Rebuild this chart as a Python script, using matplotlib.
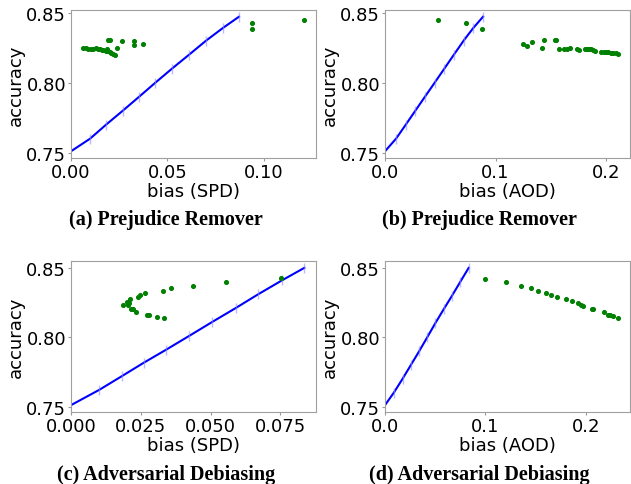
import numpy as np
import matplotlib
matplotlib.use('Agg')
import matplotlib.pyplot as plt

# 蓝线：参考线 (bias, accuracy)
line_a_x = [0.0, 0.0099, 0.0182, 0.0269, 0.0354, 0.0438, 0.0524, 0.0613, 0.0701, 0.0788, 0.0871]
line_a_y = [0.751, 0.760, 0.770, 0.780, 0.790, 0.800, 0.810, 0.820, 0.830, 0.839, 0.847]
line_b_x = [0.0, 0.0100, 0.0188, 0.0275, 0.0362, 0.0450, 0.0537, 0.0624, 0.0712, 0.0799, 0.0887]
line_b_y = [0.751, 0.760, 0.770, 0.780, 0.790, 0.800, 0.810, 0.820, 0.830, 0.839, 0.847]
line_c_x = [0.0, 0.0101, 0.0183, 0.0260, 0.0341, 0.0424, 0.0506, 0.0590, 0.0671, 0.0756, 0.0836]
line_c_y = [0.751, 0.762, 0.772, 0.7815, 0.791, 0.801, 0.811, 0.821, 0.831, 0.841, 0.850]
line_d_x = [0.0, 0.0088, 0.0175, 0.0258, 0.0341, 0.0421, 0.0500, 0.0583, 0.0668, 0.0750, 0.0833]
line_d_y = [0.751, 0.760, 0.770, 0.780, 0.790, 0.800, 0.810, 0.820, 0.830, 0.840, 0.850]

# 绿点：各方法结果
pts_a_x = [0.0064, 0.0078, 0.0090, 0.0103, 0.0116, 0.0130, 0.0142, 0.0150, 0.0160, 0.0168,
           0.0182, 0.0189, 0.0200, 0.0208, 0.0217, 0.0226, 0.0194, 0.0203, 0.0189, 0.0194,
           0.0238, 0.0264, 0.0325, 0.0325, 0.0372, 0.0941, 0.0941, 0.1210]
pts_a_y = [0.8247, 0.8247, 0.8240, 0.8240, 0.8240, 0.8245, 0.8240, 0.8240, 0.8233, 0.8235,
           0.8228, 0.8222, 0.8216, 0.8210, 0.8204, 0.8199, 0.8301, 0.8301, 0.8240, 0.8228,
           0.8247, 0.8296, 0.8296, 0.8265, 0.8277, 0.8422, 0.8381, 0.8444]
pts_b_x = [0.0484, 0.0736, 0.0877, 0.1246, 0.1285, 0.1330, 0.1421, 0.1441, 0.1541, 0.1550,
           0.1571, 0.1615, 0.1646, 0.1670, 0.1736, 0.1751, 0.1805, 0.1826, 0.1847, 0.1862,
           0.1886, 0.1901, 0.1955, 0.1977, 0.2000, 0.2021, 0.2042, 0.2066, 0.2090, 0.2111]
pts_b_y = [0.8444, 0.8422, 0.8381, 0.8277, 0.8260, 0.8293, 0.8247, 0.8301, 0.8301, 0.8301,
           0.8240, 0.8240, 0.8240, 0.8247, 0.8240, 0.8235, 0.8240, 0.8243, 0.8243, 0.8240,
           0.8235, 0.8228, 0.8221, 0.8221, 0.8218, 0.8216, 0.8213, 0.8211, 0.8209, 0.8204]
pts_c_x = [0.0185, 0.0201, 0.0204, 0.0212, 0.0207, 0.0216, 0.0222, 0.0233, 0.0239, 0.0246,
           0.0266, 0.0272, 0.0278, 0.0308, 0.0330, 0.0332, 0.0359, 0.0437, 0.0555, 0.0753]
pts_c_y = [0.8233, 0.8257, 0.8233, 0.8274, 0.8245, 0.8204, 0.8204, 0.8180, 0.8289, 0.8303,
           0.8318, 0.8163, 0.8163, 0.8148, 0.8335, 0.8136, 0.8354, 0.8369, 0.8398, 0.8427]
pts_d_x = [0.0997, 0.1203, 0.1353, 0.1450, 0.1527, 0.1607, 0.1657, 0.1717, 0.1803, 0.1860,
           0.1917, 0.1950, 0.1970, 0.2057, 0.2070, 0.2177, 0.2223, 0.2237, 0.2273, 0.2323]
pts_d_y = [0.8422, 0.8398, 0.8369, 0.8354, 0.8332, 0.8318, 0.8303, 0.8289, 0.8272, 0.8260,
           0.8243, 0.8231, 0.8226, 0.8206, 0.8201, 0.8180, 0.8163, 0.8163, 0.8150, 0.8136]

panels = [
    (line_a_x, line_a_y, pts_a_x, pts_a_y, 'bias (SPD)', '(a) Prejudice Remover'),
    (line_b_x, line_b_y, pts_b_x, pts_b_y, 'bias (AOD)', '(b) Prejudice Remover'),
    (line_c_x, line_c_y, pts_c_x, pts_c_y, 'bias (SPD)', '(c) Adversarial Debiasing'),
    (line_d_x, line_d_y, pts_d_x, pts_d_y, 'bias (AOD)', '(d) Adversarial Debiasing'),
]
# 子图位置 (像素)
W, H = 631, 485
boxes = [(71, 11, 316, 159), (385, 11, 630, 159), (71, 262, 316, 413), (385, 262, 630, 413)]
captions_xy = [(166, 220), (479, 220), (166, 475), (479, 475)]

plt.rcParams['font.family'] = ['DejaVu Sans']
fig = plt.figure(figsize=(W / 100, H / 100), dpi=100)

for (lx, ly, px, py, xl, cap), (l, t, r, b), (cx, cy) in zip(panels, boxes, captions_xy):
    ax = fig.add_axes([l / W, 1 - b / H, (r - l) / W, (b - t) / H])
    ax.plot(lx, ly, color='blue', lw=1.5, zorder=2)
    ax.plot(lx[1:], ly[1:], ls='none', marker='|', ms=7, mew=1.0,
            color='#8c8cff', alpha=0.6, zorder=3)
    ax.scatter(px, py, s=7, color='green', zorder=4)
    ax.set_xlim(left=0)
    ax.set_yticks([0.75, 0.80, 0.85])
    ax.set_xlabel(xl, fontsize=13, labelpad=1)
    ax.set_ylabel('accuracy', fontsize=13, labelpad=1)
    ax.tick_params(labelsize=13, length=2, pad=1.5, color='#999999')
    for sp in ax.spines.values():
        sp.set_color('#a0a0a0')
    fig.text(cx / W, 1 - cy / H, cap, ha='center', va='center', fontsize=14.5,
             fontweight='bold', family=['Liberation Serif', 'DejaVu Serif'])

fig.savefig('out.png', dpi=100)
